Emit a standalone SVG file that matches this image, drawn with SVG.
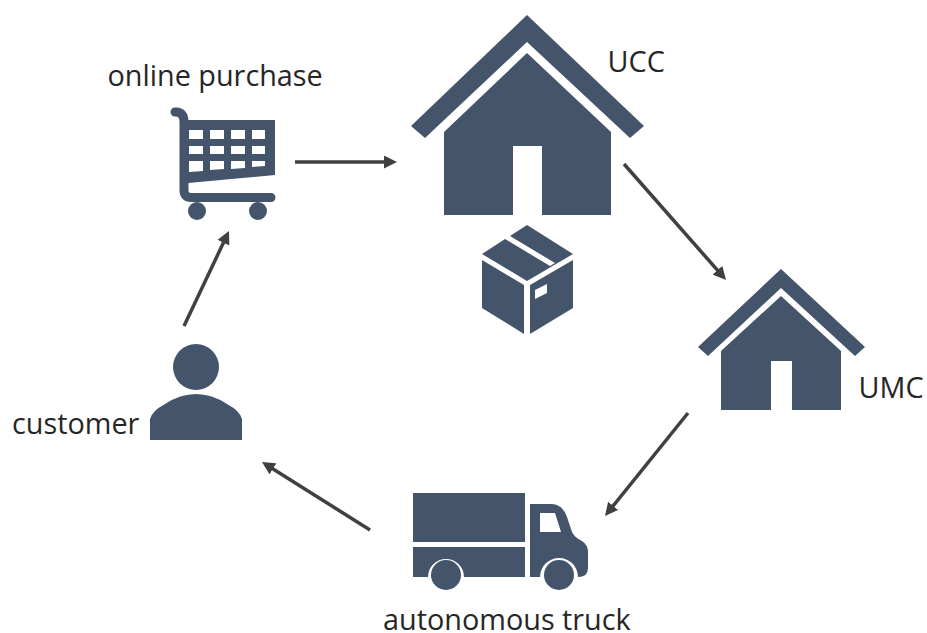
<svg xmlns="http://www.w3.org/2000/svg" width="927" height="633" viewBox="0 0 927 633">
<style>
.i{fill:#44546a}
.t{font-family:"Open Sans","Noto Sans",sans-serif;font-size:28.800px;fill:#262626}
.c{stroke:#404040;stroke-width:3.500;fill:none;marker-end:url(#a)}
</style>
<defs>
<marker id="a" markerUnits="userSpaceOnUse" markerWidth="13" markerHeight="13" refX="6" refY="6.500" orient="auto" viewBox="0 0 13 13"><path d="M0 0L13 6.500L0 13z" fill="#404040"/></marker>
</defs>
<rect width="927" height="633" fill="#fff"/>
<g id="connectors">
<path class="c" d="M295 162H390"/>
<path class="c" d="M624 164L721.400 274.700"/>
<path class="c" d="M688 413L609.400 510.500"/>
<path class="c" d="M370 530L267.900 465.700"/>
<path class="c" d="M184 326L226 237.300"/>
</g>
<g id="online-purchase">
<path class="i" fill-rule="evenodd" d="M188 120H275V175L188 183Z M189 130V139H203V130Z M210 130V139H224V130Z M231 130V139H245V130Z M252 130V139H265V130Z M189 146V154H203V146Z M210 146V154H224V146Z M231 146V154H245V146Z M252 146V154H265V146Z M189 161V172L203 171V161Z M210 161V170L224 169V161Z M231 161V169L245 168V161Z M252 161V167L265 166V161Z"/>
<path d="M175 112H177Q184 113 184 122V190Q184 197.500 191 197.500H271" fill="none" stroke="#44546a" stroke-width="9" stroke-linecap="round"/>
<circle class="i" cx="197" cy="211" r="9"/>
<circle class="i" cx="258" cy="211" r="9"/>
<text class="t" x="107.500" y="86">online purchase</text>
</g>
<g id="ucc">
<path class="i" d="M527 15L644 126L630 138L527 42L425 138L411 126Z"/>
<path class="i" d="M527 53L611 132V215H542V146H513V215H444V132Z"/>
<text class="t" x="607.500" y="72">UCC</text>
</g>
<g id="package">
<path class="i" d="M527 225L573 254L527 281L482 254L505 239L550 266L555 263L510 236Z"/>
<path class="i" d="M482 260L524 285V334L482 308Z"/>
<path class="i" fill-rule="evenodd" d="M530 285L573 260V308L530 334Z M535 290V299L547 293V284Z"/>
</g>
<g id="umc">
<path class="i" d="M781 269L865 347L855 356L781 288L708 356L698 347Z"/>
<path class="i" d="M781 296L841 351V410H792V361H771V410H721V351Z"/>
<text class="t" x="858.500" y="398">UMC</text>
</g>
<g id="truck">
<rect class="i" x="413" y="493" width="112" height="49"/>
<path class="i" d="M413 547H525V577H464A18 18 0 0 0 428 577H413Z"/>
<path class="i" fill-rule="evenodd" d="M530 504H552Q563 505 567 517L572 532Q574 537 582 541Q588 545 588 552V568Q588 577 578 577A19 19 0 0 0 540 577H530Z M540 513V532H561L555 513Z"/>
<circle class="i" cx="446" cy="575" r="15"/>
<circle class="i" cx="559" cy="575" r="15"/>
<text class="t" x="383" y="630">autonomous truck</text>
</g>
<g id="customer">
<circle class="i" cx="196" cy="367" r="23"/>
<path class="i" d="M150 440V419Q152 411 165 404Q180 394 196 394Q212 394 227 404Q240 411 242 419V440Z"/>
<text class="t" x="12" y="433.500">customer</text>
</g>
</svg>
